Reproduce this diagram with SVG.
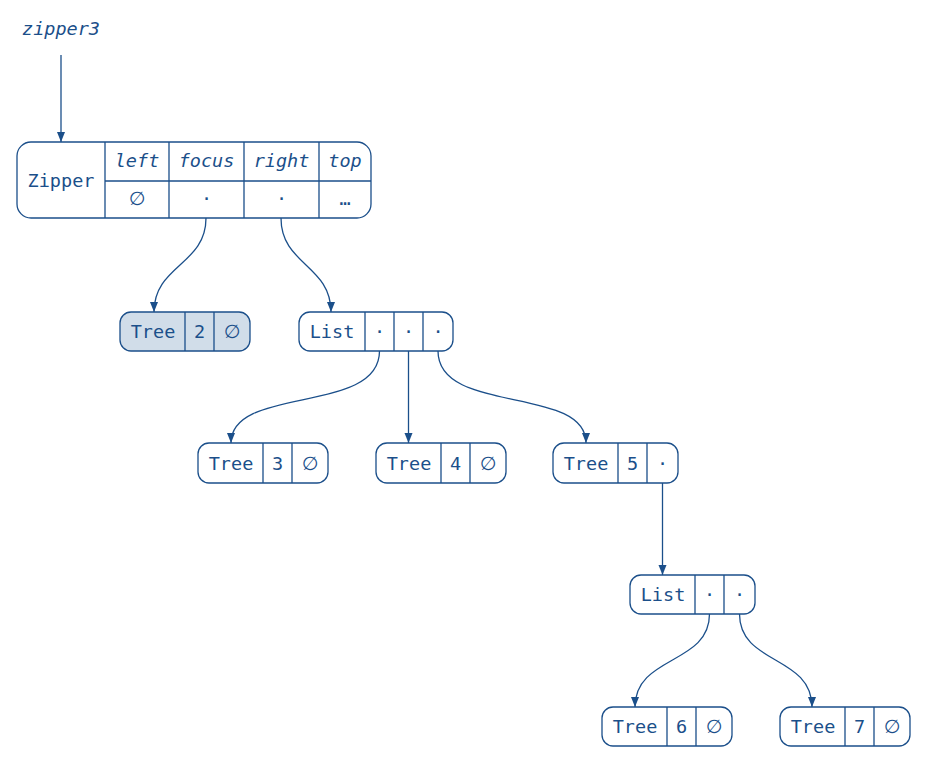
<svg xmlns="http://www.w3.org/2000/svg" width="927" height="758" viewBox="0 0 927 758">
<style>
.b{fill:#fff;stroke:#1b4f8a;stroke-width:1.3}
.h{fill:#d1dde9;stroke:#1b4f8a;stroke-width:1.3}
.d{stroke:#1b4f8a;stroke-width:1.3;fill:none}
text{font-family:"DejaVu Sans Mono","Liberation Mono",monospace;font-size:18.5px;fill:#1b4f8a;text-anchor:middle;dominant-baseline:central}
.i{font-style:italic}
.e{font-family:"DejaVu Sans","Liberation Sans",sans-serif;font-size:19px}
.c{fill:none;stroke:#1b4f8a;stroke-width:1.3;marker-end:url(#a)}
</style>
<defs>
<marker id="a" viewBox="0 0 10 10" refX="10" refY="5" markerWidth="10" markerHeight="10" markerUnits="userSpaceOnUse" orient="auto">
<path d="M0,1 L10,5 L0,9 Z" fill="#1b4f8a"/>
</marker>
</defs>
<text class="i" x="22" y="28" style="text-anchor:start">zipper3</text>
<g id="connectors">
<path class="c" d="M61,55 L61,142"/>
<path class="c" d="M206,218 C206,265 154,265 154,312"/>
<path class="c" d="M281,218 C281,265 331,265 331,312"/>
<path class="c" d="M379.5,351 C379.5,415 231,385 231,443"/>
<path class="c" d="M408.5,351 L408.5,443"/>
<path class="c" d="M438,351 C438,415 586,385 586,443"/>
<path class="c" d="M662.5,483 L662.5,575"/>
<path class="c" d="M709.5,614 C709.5,665 635,655 635,707"/>
<path class="c" d="M739.5,614 C739.5,665 812,655 812,707"/>
</g>
<g id="zipper">
<rect class="b" x="17" y="142" width="354" height="76" rx="14"/>
<path class="d" d="M105,142V218M169,142V218M244,142V218M319,142V218M105,181H371"/>
<text x="61" y="180">Zipper</text>
<text class="i" x="137" y="160">left</text>
<text class="i" x="206.5" y="160">focus</text>
<text class="i" x="281.5" y="160">right</text>
<text class="i" x="345" y="160">top</text>
<text class="e" x="137" y="198">∅</text>
<text x="206.5" y="198">·</text>
<text x="281.5" y="198">·</text>
<text x="345" y="198">…</text>
</g>
<g id="tree2">
<rect class="h" x="120" y="312" width="130" height="39" rx="11"/>
<path class="d" d="M185,312V351M214,312V351"/>
<text x="153" y="331">Tree</text><text x="199.5" y="331">2</text><text class="e" x="232" y="331">∅</text>
</g>
<g id="list1">
<rect class="b" x="299" y="312" width="154" height="39" rx="11"/>
<path class="d" d="M365,312V351M394,312V351M423,312V351"/>
<text x="332" y="331">List</text><text x="379.5" y="331">·</text><text x="408.5" y="331">·</text><text x="438" y="331">·</text>
</g>
<g id="tree3">
<rect class="b" x="198" y="443" width="130" height="40" rx="11"/>
<path class="d" d="M263,443V483M292,443V483"/>
<text x="231" y="463">Tree</text><text x="277.5" y="463">3</text><text class="e" x="310" y="463">∅</text>
</g>
<g id="tree4">
<rect class="b" x="376" y="443" width="130" height="40" rx="11"/>
<path class="d" d="M441,443V483M470,443V483"/>
<text x="409" y="463">Tree</text><text x="455.5" y="463">4</text><text class="e" x="488" y="463">∅</text>
</g>
<g id="tree5">
<rect class="b" x="553" y="443" width="125" height="40" rx="11"/>
<path class="d" d="M618,443V483M647,443V483"/>
<text x="586" y="463">Tree</text><text x="632.5" y="463">5</text><text x="662.5" y="463">·</text>
</g>
<g id="list2">
<rect class="b" x="630" y="575" width="125" height="39" rx="11"/>
<path class="d" d="M695,575V614M724,575V614"/>
<text x="663" y="594">List</text><text x="709.5" y="594">·</text><text x="739.5" y="594">·</text>
</g>
<g id="tree6">
<rect class="b" x="602" y="707" width="130" height="39" rx="11"/>
<path class="d" d="M667,707V746M696,707V746"/>
<text x="635" y="726">Tree</text><text x="681.5" y="726">6</text><text class="e" x="714" y="726">∅</text>
</g>
<g id="tree7">
<rect class="b" x="780" y="707" width="130" height="39" rx="11"/>
<path class="d" d="M845,707V746M874,707V746"/>
<text x="813" y="726">Tree</text><text x="859.5" y="726">7</text><text class="e" x="892" y="726">∅</text>
</g>
</svg>
